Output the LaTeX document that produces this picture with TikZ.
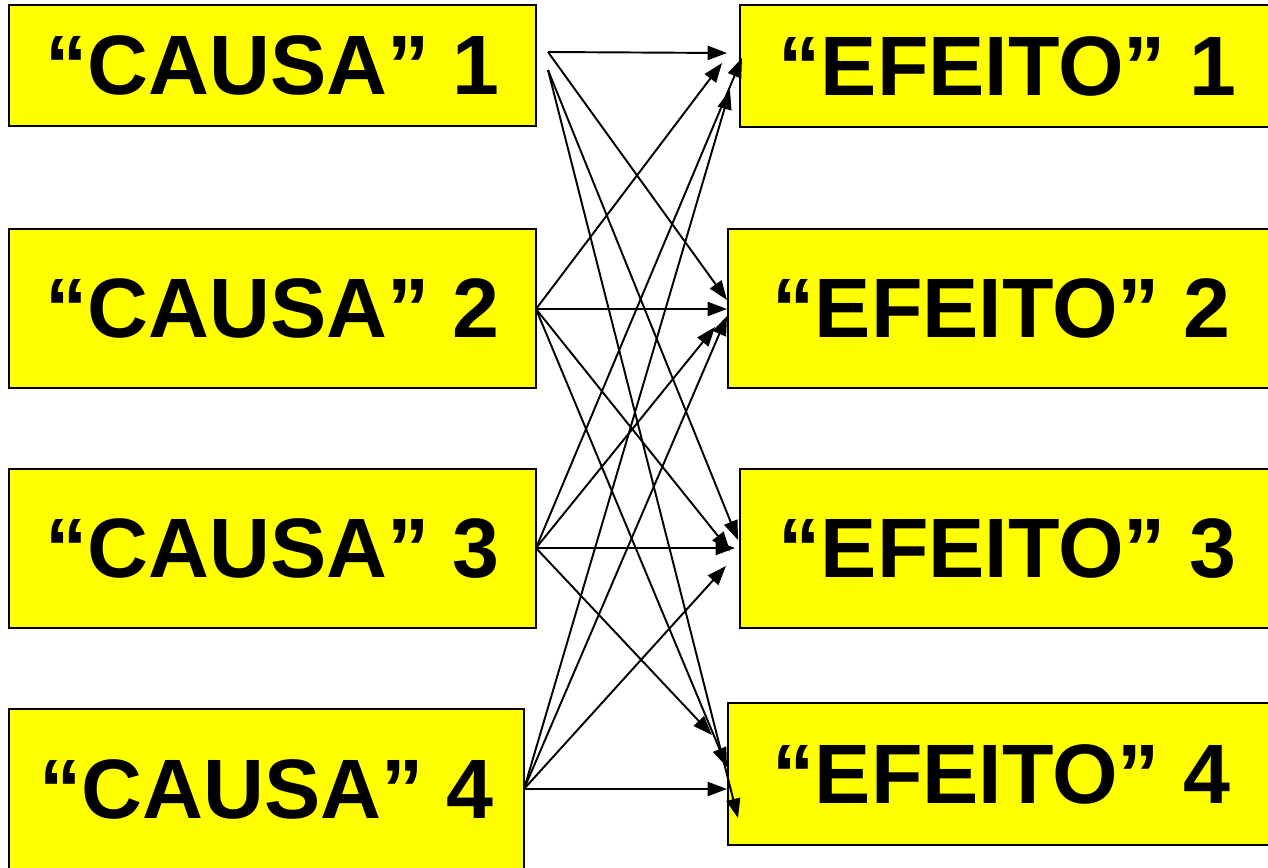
\documentclass[tikz,border=0pt]{standalone}
\usepackage{fontspec}
\setmainfont{Liberation Sans}
\usetikzlibrary{arrows.meta}
\definecolor{boxyellow}{RGB}{255,255,0}

\begin{document}
\begin{tikzpicture}[x=0.02cm, y=-0.02cm,
  box/.style={draw, line width=1.1pt, fill=boxyellow, inner sep=0pt, font=\bfseries\fontsize{48}{50}\selectfont},
  arr/.style={line width=1.1pt, -{Triangle[length=11pt, width=8pt]}}]
\useasboundingbox (0,0) rectangle (1268,867);

% causes
\node[box, minimum width=10.54cm, minimum height=2.42cm] (c1) at (272.5,65.5) {“CAUSA” 1};
\node[box, minimum width=10.54cm, minimum height=3.18cm] (c2) at (272.5,308.5) {“CAUSA” 2};
\node[box, minimum width=10.54cm, minimum height=3.18cm] (c3) at (272.5,548.5) {“CAUSA” 3};
\node[box, minimum width=10.3cm, minimum height=3.2cm] (c4) at (266.5,789) {“CAUSA” 4};

% effects
\node[box, minimum width=10.7cm, minimum height=2.44cm] (e1) at (1007.5,66) {“EFEITO” 1};
\node[box, minimum width=10.94cm, minimum height=3.18cm] (e2) at (1001.5,308.5) {“EFEITO” 2};
\node[box, minimum width=10.7cm, minimum height=3.18cm] (e3) at (1007.5,548.5) {“EFEITO” 3};
\node[box, minimum width=10.94cm, minimum height=2.84cm] (e4) at (1001.5,774) {“EFEITO” 4};

% start points
\coordinate (c1a) at (548,52);
\coordinate (c1b) at (548,70);
\coordinate (c2o) at (536,309);
\coordinate (c3o) at (536,548);
\coordinate (c4o) at (524,789);

% end points
\coordinate (e1a) at (727,53);
\coordinate (e1b) at (722,63);
\coordinate (e1c) at (742,58);
\coordinate (e1d) at (730,90);
\coordinate (e2a) at (727,300);
\coordinate (e2b) at (727,309);
\coordinate (e2c) at (715,327);
\coordinate (e2d) at (727,316);
\coordinate (e3a) at (738,540);
\coordinate (e3b) at (730,551);
\coordinate (e3c) at (735,548);
\coordinate (e3d) at (726,566);
\coordinate (e4a) at (738,818);
\coordinate (e4b) at (727,767);
\coordinate (e4c) at (712,735);
\coordinate (e4d) at (727,789);

\foreach \s/\t in {c1a/e1a, c1a/e2a, c1b/e3a, c1b/e4a,
                   c2o/e1b, c2o/e2b, c2o/e3b, c2o/e4b,
                   c3o/e1c, c3o/e2c, c3o/e3c, c3o/e4c,
                   c4o/e1d, c4o/e2d, c4o/e3d, c4o/e4d}
  \draw[arr] (\s) -- (\t);
\end{tikzpicture}
\end{document}
